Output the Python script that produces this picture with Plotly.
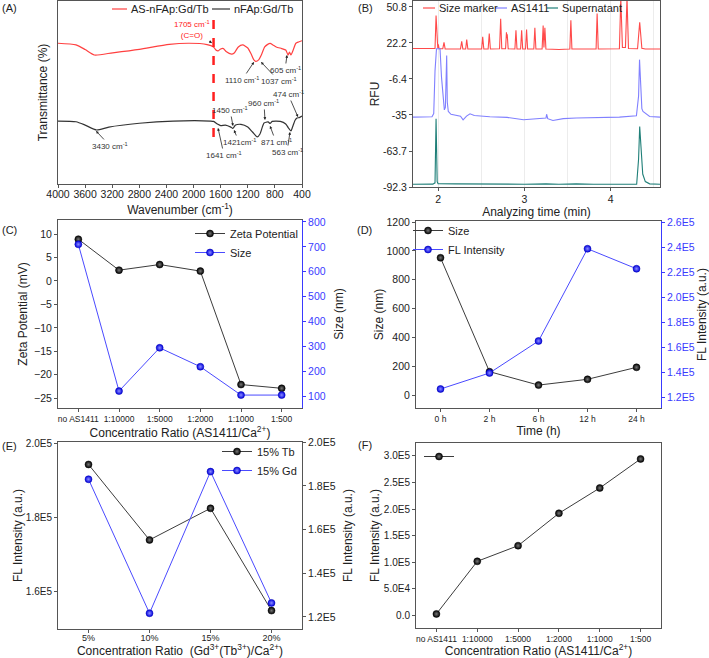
import plotly.graph_objects as go

W, H = 709, 658
FONT = "Liberation Sans, Arial, sans-serif"


def fx(x):
    return x / W


def fy(y):
    return 1 - y / H


# ---------------- Panel A : FTIR ----------------
ftir_wn_as = [4000, 3734, 3600, 3464, 3193, 2800, 2358, 2063, 1800, 1705, 1670, 1640, 1600, 1560,
              1520, 1440, 1400, 1340, 1275, 1200, 1150, 1110, 1080, 1040, 1000, 950, 906, 870,
              830, 780, 700, 640, 605, 585, 563, 530, 490, 450, 400]
ftir_t_as = [76.9, 76.0, 73.5, 70.5, 71.7, 73.6, 76.3, 76.9, 76.2, 74.9, 73.2, 72.7, 73.8, 74.0,
             72.4, 71.0, 71.6, 74.9, 76.0, 74.3, 71.0, 67.8, 67.0, 67.8, 70.5, 74.9, 76.3, 76.8,
             76.0, 74.9, 74.0, 73.2, 70.5, 72.1, 70.5, 73.2, 76.9, 77.6, 78.3]
ftir_wn_n = [4000, 3734, 3600, 3430, 3250, 2800, 2300, 1750, 1705, 1641, 1600, 1530, 1450, 1421,
             1380, 1300, 1200, 1130, 1060, 1020, 980, 960, 900, 871, 840, 720, 640, 600, 563,
             540, 500, 474, 440, 400]
ftir_t_n = [34.4, 34.0, 32.2, 29.5, 31.1, 33.2, 34.4, 34.4, 34.2, 32.6, 31.9, 32.2, 31.1, 30.4,
            32.2, 32.6, 31.1, 28.4, 25.7, 27.3, 31.7, 33.3, 33.9, 33.1, 34.2, 34.2, 32.8, 30.6,
            29.0, 31.1, 35.0, 36.1, 36.3, 37.2]
wn_ticks = [4000, 3600, 3200, 2800, 2400, 2000, 1600, 1200, 800, 400]

# ---------------- Panel B : capillary electrophoresis ----------------
marker_t = [1.71, 1.90, 1.965, 1.977, 1.99, 1.997, 2.003, 2.012, 2.055, 2.069, 2.082, 2.26, 2.274,
            2.287, 2.320, 2.332, 2.345, 2.505, 2.517, 2.530, 2.580, 2.593, 2.606, 2.712, 2.725,
            2.738, 2.782, 2.792, 2.797, 2.801, 2.812, 2.89, 2.902, 2.914, 2.956, 2.968, 2.980,
            3.013, 3.025, 3.037, 3.109, 3.121, 3.133, 3.205, 3.217, 3.226, 3.237, 3.249, 3.40,
            3.526, 3.538, 3.550, 3.70, 3.83, 3.842, 3.855, 4.10, 4.116, 4.135, 4.170, 4.188, 4.205,
            4.31, 4.335, 4.36, 4.40, 4.57]
marker_rfu = [17.8, 17.6, 17.8, 44.0, 18.5, 18.0, 21.0, 17.6, 17.6, 22.7, 17.4, 17.4, 23.5,
              17.4, 17.4, 24.9, 17.4, 17.4, 27.0, 17.4, 17.4, 29.6, 17.4, 17.5, 41.4,
              17.6, 17.6, 30.7, 26.0, 29.0, 17.5, 17.4, 32.3, 17.4, 17.4, 32.3, 17.4,
              17.4, 32.8, 17.4, 17.4, 34.2, 17.4, 17.4, 36.0, 18.5, 34.2, 17.4, 17.0,
              17.4, 40.2, 17.4, 17.2, 17.4, 45.6, 17.4, 17.6, 58.0, 18.5, 18.5, 58.0, 17.8,
              17.6, 38.6, 18.0, 17.4, 17.4]
as_t = [1.71, 1.93, 1.950, 1.965, 1.982, 2.023, 2.040, 2.060, 2.073, 2.085, 2.095, 2.100, 2.107,
        2.119, 2.15, 2.20, 2.26, 2.29, 2.33, 2.37, 2.42, 2.6, 2.8, 2.99, 3.15, 3.25, 3.257, 3.27,
        3.33, 3.45, 3.60, 3.8, 4.1, 4.297, 4.322, 4.333, 4.345, 4.36, 4.373, 4.45, 4.57]
as_rfu = [-36.8, -36.5, -34.0, 0.0, 17.5, 17.5, -5.0, -25.0, -31.0, -29.0, 12.1, 12.1, -25.0,
          -32.3, -34.5, -35.0, -36.0, -38.9, -36.0, -34.1, -35.5, -36.5, -37.0, -38.9, -38.0,
          -37.5, -34.5, -38.0, -39.5, -38.0, -37.5, -37.0, -36.8, -35.7, -20.0, 8.9, -15.0,
          -30.0, -32.3, -36.3, -36.8]
sup_t = [1.71, 1.94, 1.965, 1.977, 1.99, 2.0, 2.2, 2.5, 3.0, 3.25, 3.4, 3.6, 3.8, 4.3, 4.322,
         4.335, 4.35, 4.37, 4.40, 4.45, 4.57]
sup_rfu = [-90.1, -90.0, -89.0, -38.1, -88.0, -89.6, -89.8, -90.1, -90.1, -89.8, -90.1, -89.8,
           -90.1, -90.0, -70.0, -44.2, -65.0, -82.0, -88.0, -89.8, -90.1]
rfu_ticks = [-92.3, -63.7, -35, -6.4, 22.2, 50.8]
rfu_ticktext = ["-92.3", "-63.7", "-35", "-6.4", "22.2", "50.8"]

# ---------------- Panel C ----------------
ratio_cats = ["no AS1411", "1:10000", "1:5000", "1:2000", "1:1000", "1:500"]
zeta_mv = [8.9, 2.3, 3.5, 2.1, -22.1, -22.9]
size_c_nm = [710, 120, 294, 218, 104, 104]

# ---------------- Panel D ----------------
time_cats = ["0 h", "2 h", "6 h", "12 h", "24 h"]
size_d_nm = [952, 162, 69, 109, 192]
fl_d = [1.264e5, 1.392e5, 1.648e5, 2.386e5, 2.226e5]
fl_d_ticks = [1.2e5, 1.4e5, 1.6e5, 1.8e5, 2.0e5, 2.2e5, 2.4e5, 2.6e5]
fl_d_ticktext = ["1.2E5", "1.4E5", "1.6E5", "1.8E5", "2.0E5", "2.2E5", "2.4E5", "2.6E5"]

# ---------------- Panel E ----------------
conc_cats = ["5%", "10%", "15%", "20%"]
fl_tb = [1.942e5, 1.738e5, 1.8235e5, 1.547e5]
fl_gd = [1.83e5, 1.217e5, 1.865e5, 1.264e5]
fl_e_left_ticks = [1.6e5, 1.8e5, 2.0e5]
fl_e_left_text = ["1.6E5", "1.8E5", "2.0E5"]
fl_e_right_ticks = [1.2e5, 1.4e5, 1.6e5, 1.8e5, 2.0e5]
fl_e_right_text = ["1.2E5", "1.4E5", "1.6E5", "1.8E5", "2.0E5"]

# ---------------- Panel F ----------------
fl_f = [2.0e3, 1.013e5, 1.308e5, 1.919e5, 2.396e5, 2.944e5]
fl_f_ticks = [0, 5e4, 1e5, 1.5e5, 2e5, 2.5e5, 3e5]
fl_f_ticktext = ["0.0", "5.0E4", "1.0E5", "1.5E5", "2.0E5", "2.5E5", "3.0E5"]

# ---------------- styles ----------------
BLACK_LINE = dict(color="#3c3c3c", width=1)
BLUE_LINE = dict(color="#4a4aff", width=1)
BLACK_MK = dict(size=7, color="#000000", line=dict(color="#000", width=0.5),
                gradient=dict(type="radial", color="#777777"))
BLUE_MK = dict(size=7, color="#0000e0", line=dict(color="#0000b0", width=0.5),
               gradient=dict(type="radial", color="#8c8cff"))
AX_COL = "#555555"
BLUE_AX = "#3a3aff"

fig = go.Figure()

# A traces
fig.add_trace(go.Scatter(x=ftir_wn_as, y=ftir_t_as, mode="lines", name="AS-nFAp:Gd/Tb",
                         line=dict(color="#ff4040", width=1.2, shape="spline", smoothing=0.6),
                         xaxis="x", yaxis="y", showlegend=False))
fig.add_trace(go.Scatter(x=ftir_wn_n, y=ftir_t_n, mode="lines", name="nFAp:Gd/Tb",
                         line=dict(color="#333333", width=1.2, shape="spline", smoothing=0.6),
                         xaxis="x", yaxis="y", showlegend=False))
# B traces
fig.add_trace(go.Scatter(x=marker_t, y=marker_rfu, mode="lines", name="Size marker",
                         line=dict(color="#ff4a4a", width=1.1), xaxis="x2", yaxis="y2",
                         showlegend=False))
fig.add_trace(go.Scatter(x=as_t, y=as_rfu, mode="lines", name="AS1411",
                         line=dict(color="#8080ff", width=1.1), xaxis="x2", yaxis="y2",
                         showlegend=False))
fig.add_trace(go.Scatter(x=sup_t, y=sup_rfu, mode="lines", name="Supernatant",
                         line=dict(color="#1f7f78", width=1.1), xaxis="x2", yaxis="y2",
                         showlegend=False))
# C traces
fig.add_trace(go.Scatter(x=ratio_cats, y=zeta_mv, mode="lines+markers", name="Zeta Potential",
                         line=BLACK_LINE, marker=BLACK_MK, xaxis="x3", yaxis="y3",
                         legend="legend"))
fig.add_trace(go.Scatter(x=ratio_cats, y=size_c_nm, mode="lines+markers", name="Size",
                         line=BLUE_LINE, marker=BLUE_MK, xaxis="x3", yaxis="y4",
                         legend="legend"))
# D traces
fig.add_trace(go.Scatter(x=time_cats, y=size_d_nm, mode="lines+markers", name="Size",
                         line=BLACK_LINE, marker=BLACK_MK, xaxis="x4", yaxis="y5",
                         legend="legend2"))
fig.add_trace(go.Scatter(x=time_cats, y=fl_d, mode="lines+markers", name="FL Intensity",
                         line=BLUE_LINE, marker=BLUE_MK, xaxis="x4", yaxis="y6",
                         legend="legend2"))
# E traces
fig.add_trace(go.Scatter(x=conc_cats, y=fl_tb, mode="lines+markers", name="15% Tb",
                         line=BLACK_LINE, marker=BLACK_MK, xaxis="x5", yaxis="y7",
                         legend="legend3"))
fig.add_trace(go.Scatter(x=conc_cats, y=fl_gd, mode="lines+markers", name="15% Gd",
                         line=BLUE_LINE, marker=BLUE_MK, xaxis="x5", yaxis="y8",
                         legend="legend3"))
# F trace
fig.add_trace(go.Scatter(x=ratio_cats, y=fl_f, mode="lines+markers", name=" ",
                         line=BLACK_LINE, marker=BLACK_MK, xaxis="x6", yaxis="y9",
                         legend="legend4", showlegend=True))

tickfont = dict(family=FONT, size=10.5, color="#222")
smalltick = dict(family=FONT, size=10, color="#222")
catfont = dict(family=FONT, size=8.5, color="#222")
titlefont = dict(family=FONT, size=12, color="#222")


def base_axis(**kw):
    d = dict(showline=True, linecolor=AX_COL, linewidth=1, ticks="outside", ticklen=3,
             tickcolor=AX_COL, showgrid=False, zeroline=False, tickfont=tickfont,
             automargin=False, tickangle=0)
    d.update(kw)
    return d


dAx = [fx(58), fx(302)]
dBx = [fx(413), fx(660)]
dDx = [fx(416), fx(661)]

layout = dict(
    width=W, height=H, margin=dict(l=0, r=0, t=0, b=0, autoexpand=False),
    paper_bgcolor="white", plot_bgcolor="white",
    font=dict(family=FONT, color="#222"),
    showlegend=True,
    # A
    xaxis=base_axis(domain=dAx, anchor="y", range=[4000, 400], tickvals=wn_ticks,
                    mirror=True, ticklabelstandoff=-3,
                    title=dict(text="Wavenumber (cm<sup>-1</sup>)", font=titlefont,
                               standoff=7)),
    yaxis=base_axis(domain=[fy(184), fy(1)], anchor="x", range=[0, 100], showticklabels=False,
                    ticks="", mirror=True,
                    title=dict(text="Transmittance (%)", font=titlefont, standoff=6)),
    # B
    xaxis2=base_axis(domain=dBx, anchor="y2", range=[1.71, 4.57], tickvals=[2, 3, 4],
                     mirror=True, ticklabelstandoff=-1,
                     minor=dict(tick0=2, dtick=0.5, showgrid=True, gridcolor="#ececec",
                                gridwidth=1, ticks=""),
                     title=dict(text="Analyzing time (min)", font=titlefont, standoff=0)),
    yaxis2=base_axis(domain=[fy(187), fy(1)], anchor="x2", range=[-92.3, 55.5],
                     tickvals=rfu_ticks, ticktext=rfu_ticktext, mirror=True,
                     title=dict(text="RFU", font=titlefont, standoff=0)),
    # C
    xaxis3=base_axis(domain=dAx, anchor="y3", type="category", range=[-0.5, 5.5], mirror=True,
                     tickfont=catfont,
                     title=dict(text="Concentratio Ratio (AS1411/Ca<sup>2+</sup>)",
                                font=titlefont, standoff=4)),
    yaxis3=base_axis(domain=[fy(408), fy(220)], anchor="x3", range=[-27.1, 13],
                     tickvals=[-25, -20, -15, -10, -5, 0, 5, 10],
                     title=dict(text="Zeta Potential (mV)", font=titlefont, standoff=3)),
    yaxis4=base_axis(overlaying="y3", anchor="x3", side="right", range=[52, 808],
                     tickvals=[100, 200, 300, 400, 500, 600, 700, 800],
                     linecolor=BLUE_AX, tickcolor=BLUE_AX,
                     tickfont=dict(family=FONT, size=10.5, color=BLUE_AX),
                     title=dict(text="Size (nm)", font=titlefont, standoff=9)),
    # D
    xaxis4=base_axis(domain=dDx, anchor="y5", type="category", range=[-0.5, 4.5], mirror=True,
                     tickfont=catfont,
                     title=dict(text="Time (h)", font=titlefont, standoff=0)),
    yaxis5=base_axis(domain=[fy(408), fy(221)], anchor="x4", range=[-90, 1207],
                     tickvals=[0, 200, 400, 600, 800, 1000, 1200],
                     title=dict(text="Size (nm)", font=titlefont, standoff=0)),
    yaxis6=base_axis(overlaying="y5", anchor="x4", side="right", range=[1.112e5, 2.608e5],
                     tickvals=fl_d_ticks, ticktext=fl_d_ticktext,
                     linecolor=BLUE_AX, tickcolor=BLUE_AX,
                     tickfont=dict(family=FONT, size=10.5, color=BLUE_AX),
                     title=dict(text="FL Intensity (a.u.)", font=titlefont, standoff=1)),
    # E
    xaxis5=base_axis(domain=dAx, anchor="y7", type="category", range=[-0.5, 3.5], mirror=True,
                     tickfont=dict(family=FONT, size=9, color="#222"), ticklabelstandoff=-3,
                     title=dict(text="Concentration Ratio  (Gd<sup>3+</sup>(Tb<sup>3+</sup>)/Ca<sup>2+</sup>)",
                                font=titlefont, standoff=6)),
    yaxis7=base_axis(domain=[fy(629), fy(442)], anchor="x5", range=[1.4973e5, 2.0027e5],
                     tickvals=fl_e_left_ticks, ticktext=fl_e_left_text, tickfont=smalltick,
                     title=dict(text="FL Intensity (a.u.)", font=titlefont, standoff=0)),
    yaxis8=base_axis(overlaying="y7", anchor="x5", side="right", range=[1.1448e5, 2.0005e5],
                     tickvals=fl_e_right_ticks, ticktext=fl_e_right_text,
                     title=dict(text="FL Intensity (a.u.)", font=titlefont, standoff=8)),
    # F
    xaxis6=base_axis(domain=dDx, anchor="y9", type="category", range=[-0.5, 5.5], mirror=True,
                     tickfont=catfont,
                     title=dict(text="Concentration Ratio (AS1411/Ca<sup>2+</sup>)",
                                font=titlefont, standoff=3)),
    yaxis9=base_axis(domain=[fy(628), fy(443)], anchor="x6", range=[-0.245e5, 3.245e5],
                     tickvals=fl_f_ticks, ticktext=fl_f_ticktext, mirror=True,
                     tickfont=smalltick,
                     title=dict(text="FL Intensity (a.u.)", font=titlefont, standoff=1)),
    legend=dict(x=fx(190), y=fy(219), xanchor="left", yanchor="top", bgcolor="rgba(0,0,0,0)",
                font=dict(family=FONT, size=11, color="#222"), tracegroupgap=0),
    legend2=dict(x=fx(408), y=fy(216), xanchor="left", yanchor="top", bgcolor="rgba(0,0,0,0)",
                 font=dict(family=FONT, size=11, color="#222")),
    legend3=dict(x=fx(217), y=fy(437), xanchor="left", yanchor="top", bgcolor="rgba(0,0,0,0)",
                 font=dict(family=FONT, size=11, color="#222")),
    legend4=dict(x=fx(419), y=fy(442), xanchor="left", yanchor="top", bgcolor="rgba(0,0,0,0)",
                 font=dict(family=FONT, size=11, color="#222")),
)
fig.update_layout(**layout)

# dashed C=O marker line in panel A
fig.add_shape(type="line", xref="x", yref="y", x0=1705, x1=1705, y0=25.7, y1=89.6,
              line=dict(color="#ff2020", width=2.5, dash="dash"))

ann = []
# manual legends for A and B
leg_items = [
    (112, 127, 9, "#ff4040", "AS-nFAp:Gd/Tb"),
    (212, 230, 9, "#333333", "nFAp:Gd/Tb"),
    (423, 435, 8, "#ff4a4a", "Size marker"),
    (495, 507, 8, "#8080ff", "AS1411"),
    (547, 558, 8, "#1f7f78", "Supernatant"),
]
for x0, x1, yy, col, txt in leg_items:
    fig.add_shape(type="line", xref="paper", yref="paper", x0=fx(x0), x1=fx(x1), y0=fy(yy),
                  y1=fy(yy), line=dict(color=col, width=1.2))
    ann.append(dict(text=txt, xref="paper", yref="paper", x=fx(x1 + 2), y=fy(yy),
                    xanchor="left", yanchor="middle", showarrow=False,
                    font=dict(family=FONT, size=11, color="#222")))

# peak labels in panel A: (text, head wn, head T, text offset px x, text offset px y)
small = dict(family=FONT, size=8, color="#333")
peak_labels = [
    ("1110 cm<sup>-1</sup>", 1108, 66.7, -12, 18),
    ("1037 cm<sup>-1</sup>", 1005, 66.7, 18, 19),
    ("605 cm<sup>-1</sup>", 621, 70.5, -2, 15),
    ("474 cm<sup>-1</sup>", 459, 36.6, -10, -23),
    ("960 cm<sup>-1</sup>", 946, 35.0, -1, -17),
    ("1450 cm<sup>-1</sup>", 1418, 31.7, -3, -16),
    ("1421cm<sup>-1</sup>", 1403, 29.5, 5, 12),
    ("871 cm<sup>-1</sup>", 872, 31.7, 6, 16),
    ("563 cm<sup>-1</sup>", 577, 28.4, -3, 20),
    ("1641 cm<sup>-1</sup>", 1639, 30.6, 6, 27),
    ("3430 cm<sup>-1</sup>", 3439, 29.0, 14, 15),
]
for txt, xx, yy, axp, ayp in peak_labels:
    ann.append(dict(text=txt, xref="x", yref="y", x=xx, y=yy, ax=axp, ay=ayp, showarrow=True,
                    arrowhead=2, arrowsize=0.7, arrowwidth=0.8, arrowcolor="#222", standoff=0,
                    font=small))
ann.append(dict(text="1705 cm<sup>-1</sup><br>(C=O)", xref="x", yref="y", x=1728, y=77.0,
                ax=-20, ay=-14, showarrow=True, arrowhead=2, arrowsize=0.7, arrowwidth=0.8,
                arrowcolor="#222", standoff=0,
                font=dict(family=FONT, size=8, color="#ff2020")))

# panel letters
for lab, xx, yy in [("(A)", 0, 8), ("(B)", 356, 8), ("(C)", 0, 230), ("(D)", 355, 230),
                    ("(E)", 0, 446), ("(F)", 356, 445)]:
    ann.append(dict(text=lab, xref="paper", yref="paper", x=fx(xx), y=fy(yy), xanchor="left",
                    yanchor="middle", showarrow=False,
                    font=dict(family=FONT, size=11, color="#222")))

fig.update_layout(annotations=ann)
fig.write_html("out.html", config={"displayModeBar": False},
               post_script="document.body.style.margin='0px';")
